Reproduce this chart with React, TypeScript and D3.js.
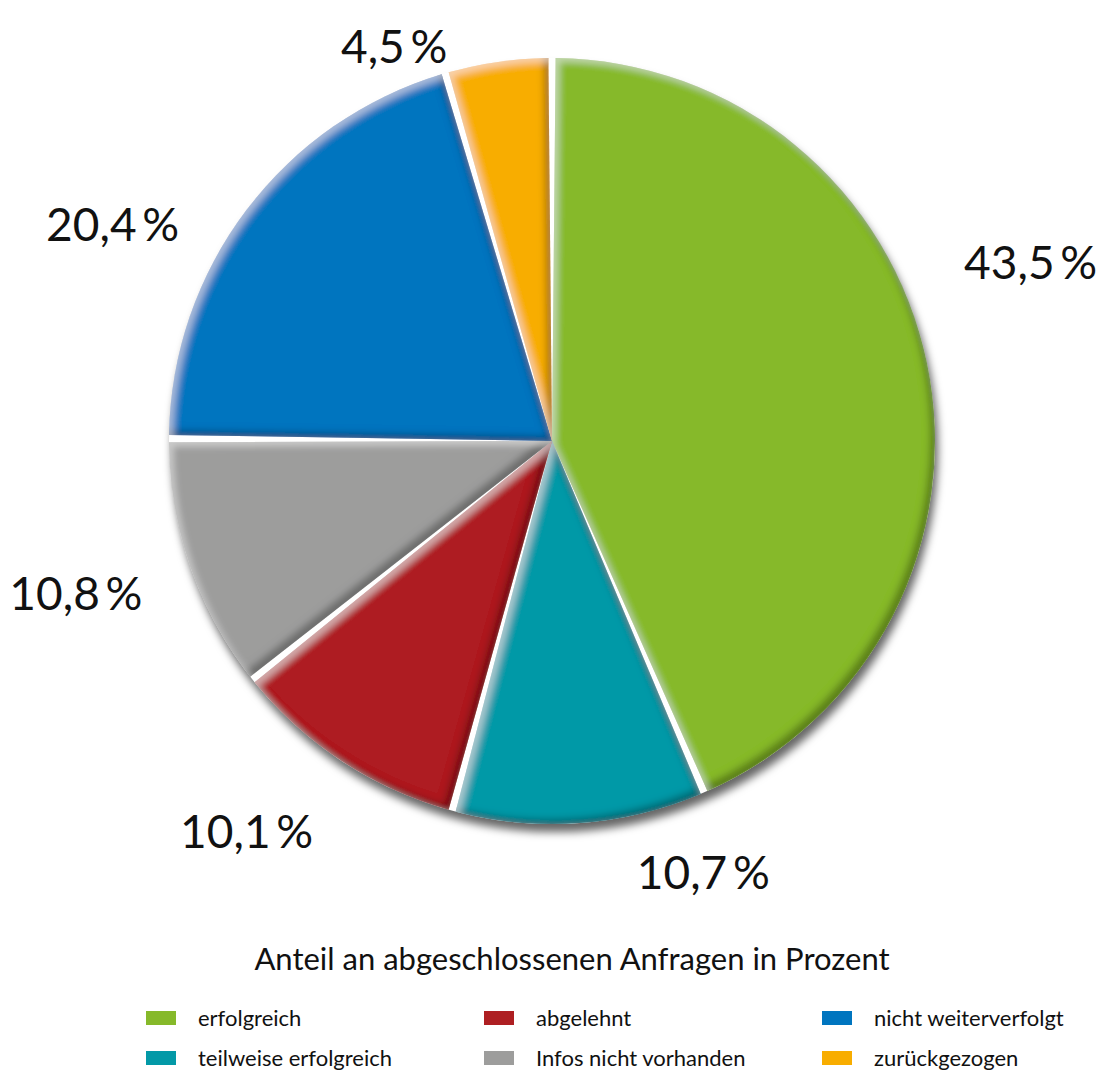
import React, { useEffect, useRef } from 'react';
import * as d3 from 'd3';

const categories = [
  'erfolgreich',
  'teilweise erfolgreich',
  'abgelehnt',
  'Infos nicht vorhanden',
  'nicht weiterverfolgt',
  'zurückgezogen',
];
const shares = [43.5, 10.7, 10.1, 10.8, 20.4, 4.5];
const colors = ['#86b92a', '#0399a7', '#ae1f22', '#9d9d9c', '#0075bf', '#f8ad00'];

// legend is laid out row by row, three columns
const legendOrder = [
  'erfolgreich',
  'abgelehnt',
  'nicht weiterverfolgt',
  'teilweise erfolgreich',
  'Infos nicht vorhanden',
  'zurückgezogen',
];
const legendTitle = 'Anteil an abgeschlossenen Anfragen in Prozent';

// hand placed labels: angle shift (deg) from slice middle, and radius
const labelShift = [-8.8, -15.2, 4.7, 1.3, -10.8, -13.7];
const labelRadius = [511, 457, 496, 500, 490, 425];

const fmt = (v: number) => v.toFixed(1).replace('.', ',') + '\u2009%';

type Slice = { name: string; value: number; color: string };

export default function App() {
  const svgRef = useRef<SVGSVGElement>(null);

  useEffect(() => {
    if (!svgRef.current) return;
    const width = 1104;
    const height = 1074;
    const cx = 552;
    const cy = 441;
    const r = 383;

    const svg = d3.select(svgRef.current);
    svg.selectAll('*').remove();

    const defs = svg.append('defs');

    // inner bevel for each slice
    const f = defs
      .append('filter')
      .attr('id', 'bevel')
      .attr('x', '-10%')
      .attr('y', '-10%')
      .attr('width', '120%')
      .attr('height', '120%');
    f.append('feGaussianBlur').attr('in', 'SourceAlpha').attr('stdDeviation', 3.5).attr('result', 'blur');
    f.append('feOffset').attr('in', 'blur').attr('dx', -5).attr('dy', -5).attr('result', 'offDark');
    f.append('feComposite').attr('in', 'SourceAlpha').attr('in2', 'offDark').attr('operator', 'out').attr('result', 'edgeDark');
    f.append('feFlood').attr('flood-color', '#000').attr('flood-opacity', 0.55).attr('result', 'fd');
    f.append('feComposite').attr('in', 'fd').attr('in2', 'edgeDark').attr('operator', 'in').attr('result', 'darkEdge');
    f.append('feOffset').attr('in', 'blur').attr('dx', 4).attr('dy', 4).attr('result', 'offLight');
    f.append('feComposite').attr('in', 'SourceAlpha').attr('in2', 'offLight').attr('operator', 'out').attr('result', 'edgeLight');
    f.append('feFlood').attr('flood-color', '#fff').attr('flood-opacity', 0.4).attr('result', 'fl');
    f.append('feComposite').attr('in', 'fl').attr('in2', 'edgeLight').attr('operator', 'in').attr('result', 'lightEdge');
    const m = f.append('feMerge');
    ['SourceGraphic', 'darkEdge', 'lightEdge'].forEach((n) => m.append('feMergeNode').attr('in', n));

    // drop shadow under the whole disk
    const ds = defs
      .append('filter')
      .attr('id', 'drop')
      .attr('x', '-10%')
      .attr('y', '-10%')
      .attr('width', '120%')
      .attr('height', '125%');
    ds.append('feGaussianBlur').attr('in', 'SourceAlpha').attr('stdDeviation', 4).attr('result', 'b');
    ds.append('feOffset').attr('in', 'b').attr('dx', 3).attr('dy', 8).attr('result', 'o');
    ds.append('feFlood').attr('flood-color', '#000').attr('flood-opacity', 0.6).attr('result', 'c');
    ds.append('feComposite').attr('in', 'c').attr('in2', 'o').attr('operator', 'in');

    svg.append('rect').attr('width', width).attr('height', height).attr('fill', '#fff');

    const data: Slice[] = categories.map((c, i) => ({ name: c, value: shares[i], color: colors[i] }));
    const pie = d3
      .pie<Slice>()
      .value((d) => d.value)
      .sort(null);
    const arcs = pie(data);

    const arc = d3
      .arc<d3.PieArcDatum<Slice>>()
      .innerRadius(0)
      .outerRadius(r)
      .padAngle(0.019)
      .padRadius(r);
    const disk = d3
      .arc<any>()
      .innerRadius(0)
      .outerRadius(r)
      .startAngle(0)
      .endAngle(2 * Math.PI);

    const g = svg.append('g').attr('transform', `translate(${cx},${cy})`);
    g.append('path').attr('d', disk({})).attr('fill', '#000').attr('filter', 'url(#drop)');
    g.append('path').attr('d', disk({})).attr('fill', '#fff');

    g.selectAll('path.slice')
      .data(arcs)
      .enter()
      .append('path')
      .attr('class', 'slice')
      .attr('d', arc)
      .attr('fill', (d) => d.data.color)
      .attr('filter', 'url(#bevel)');

    // value labels
    g.selectAll('text.val')
      .data(arcs)
      .enter()
      .append('text')
      .attr('class', 'val')
      .attr('transform', (d, i) => {
        const a = (d.startAngle + d.endAngle) / 2 + (labelShift[i] * Math.PI) / 180;
        const rr = labelRadius[i];
        return `translate(${rr * Math.sin(a)},${-rr * Math.cos(a)})`;
      })
      .attr('text-anchor', 'middle')
      .attr('dy', '0.36em')
      .attr('font-family', 'Lato, "Open Sans", sans-serif')
      .attr('font-size', 46)
      .attr('fill', '#111')
      .text((d) => fmt(d.value));

    // legend
    svg
      .append('text')
      .attr('x', 572)
      .attr('y', 970)
      .attr('text-anchor', 'middle')
      .attr('font-family', 'Lato, "Open Sans", sans-serif')
      .attr('font-size', 31)
      .attr('fill', '#111')
      .text(legendTitle);

    const colX = d3.scalePoint<number>().domain([0, 1, 2]).range([146, 822]);
    const rowY = d3.scalePoint<number>().domain([0, 1]).range([1018, 1058]);
    const colorOf = d3.scaleOrdinal<string, string>().domain(categories).range(colors);

    const items = svg
      .append('g')
      .selectAll('g')
      .data(legendOrder)
      .enter()
      .append('g')
      .attr('transform', (d, i) => `translate(${colX(i % 3)},${rowY(Math.floor(i / 3))})`);
    items
      .append('rect')
      .attr('x', 0)
      .attr('y', -7)
      .attr('width', 30)
      .attr('height', 14)
      .attr('fill', (d) => colorOf(d));
    items
      .append('text')
      .attr('x', 52)
      .attr('dy', '0.35em')
      .attr('font-family', 'Lato, "Open Sans", sans-serif')
      .attr('font-size', 22)
      .attr('fill', '#111')
      .text((d) => d);
  }, []);

  return (
    <svg
      ref={svgRef}
      width={1104}
      height={1074}
      style={{ position: 'absolute', left: 0, top: 0, display: 'block' }}
    />
  );
}
